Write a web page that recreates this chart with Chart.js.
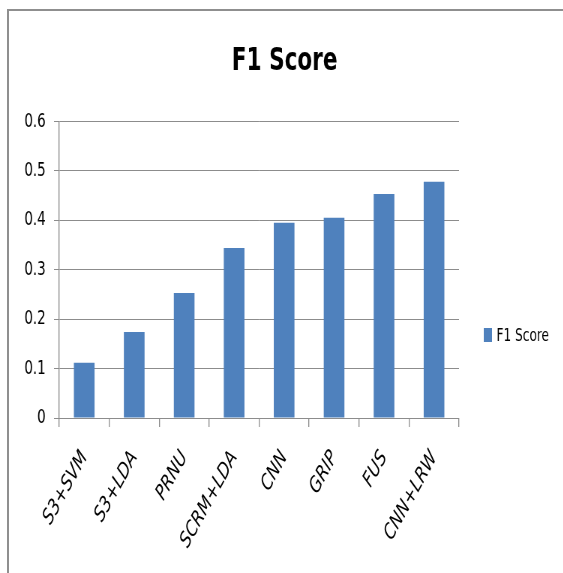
<!DOCTYPE html>
<html>
<head>
<meta charset="utf-8">
<script src="https://cdn.jsdelivr.net/npm/chart.js@4.4.1/dist/chart.umd.min.js"></script>
<style>
html,body{margin:0;padding:0;background:#fff;width:563px;height:573px;overflow:hidden}
#wrap{position:relative;width:563px;height:573px;overflow:hidden}
#squeeze{position:absolute;left:0;top:0;width:751px;height:573px;transform:scaleX(0.75);transform-origin:0 0}
#frame{position:absolute;left:7px;top:9px;right:0;bottom:0;border-left:2px solid #8f8f8f;border-top:2px solid #8f8f8f;pointer-events:none}
#c{display:block}
</style>
</head>
<body>
<div id="wrap">
<div id="squeeze"><canvas id="c" width="751" height="573"></canvas></div>
<div id="frame"></div>
</div>
<script>
const categories = ['S3+SVM', 'S3+LDA', 'PRNU', 'SCRM+LDA', 'CNN', 'GRIP', 'FUS', 'CNN+LRW'];
const f1Scores = [0.112, 0.174, 0.253, 0.344, 0.395, 0.405, 0.453, 0.478];
const seriesName = 'F1 Score';
const chartTitle = 'F1 Score';
const yMin = 0, yMax = 0.6, yStep = 0.1;

const FONT = "'DejaVu Sans Condensed', 'DejaVu Sans', sans-serif";
const BAR = '#4F81BD';
const GRID = '#8c8c8c';

const sideLegend = {
  id: 'sideLegend',
  afterDraw(chart) {
    const ctx = chart.ctx;
    const ds = chart.data.datasets[0];
    const x = chart.chartArea.right + 33;
    const y = 335;
    ctx.save();
    ctx.fillStyle = ds.backgroundColor;
    ctx.fillRect(x, y - 7, 11, 14);
    ctx.fillStyle = '#000';
    ctx.font = "18px " + FONT;
    ctx.textBaseline = 'middle';
    ctx.textAlign = 'left';
    ctx.fillText(ds.label, x + 17, y + 1);
    ctx.restore();
  }
};

new Chart(document.getElementById('c'), {
  type: 'bar',
  data: {
    labels: categories,
    datasets: [{
      label: seriesName,
      data: f1Scores,
      backgroundColor: BAR,
      borderWidth: 0,
      categoryPercentage: 1,
      barPercentage: 0.414
    }]
  },
  plugins: [sideLegend],
  options: {
    responsive: false,
    animation: false,
    devicePixelRatio: 1,
    layout: { padding: { left: 8, right: 0, top: 0, bottom: 0 } },
    plugins: {
      legend: { display: false },
      tooltip: { enabled: false },
      title: {
        display: true,
        text: chartTitle,
        color: '#000',
        font: { family: FONT, size: 32, weight: 'bold', lineHeight: 1.2 },
        padding: { top: 42, bottom: 41 }
      }
    },
    scales: {
      x: {
        offset: true,
        grid: { display: true, drawOnChartArea: false, drawTicks: true, tickLength: 9, color: GRID, lineWidth: 1.33, offset: true },
        border: { display: true, color: GRID },
        ticks: {
          color: '#000',
          font: { family: FONT, size: 22, style: 'italic' },
          minRotation: 54, maxRotation: 54,
          padding: 19,
          autoSkip: false
        },
        afterFit(s) { s.height = 155; }
      },
      y: {
        min: yMin, max: yMax,
        grid: { color: GRID, tickLength: 7, drawTicks: true },
        border: { display: true, color: GRID, width: 1.33 },
        ticks: {
          stepSize: yStep,
          color: '#000',
          font: { family: FONT, size: 20 },
          padding: 11
        },
        afterFit(s) { s.width = 71; }
      },
      legendSpace: {
        type: 'linear',
        position: 'right',
        display: true,
        grid: { display: false },
        border: { display: false },
        ticks: { display: false },
        afterFit(s) { s.width = 139; }
      }
    }
  }
});
</script>
</body>
</html>
